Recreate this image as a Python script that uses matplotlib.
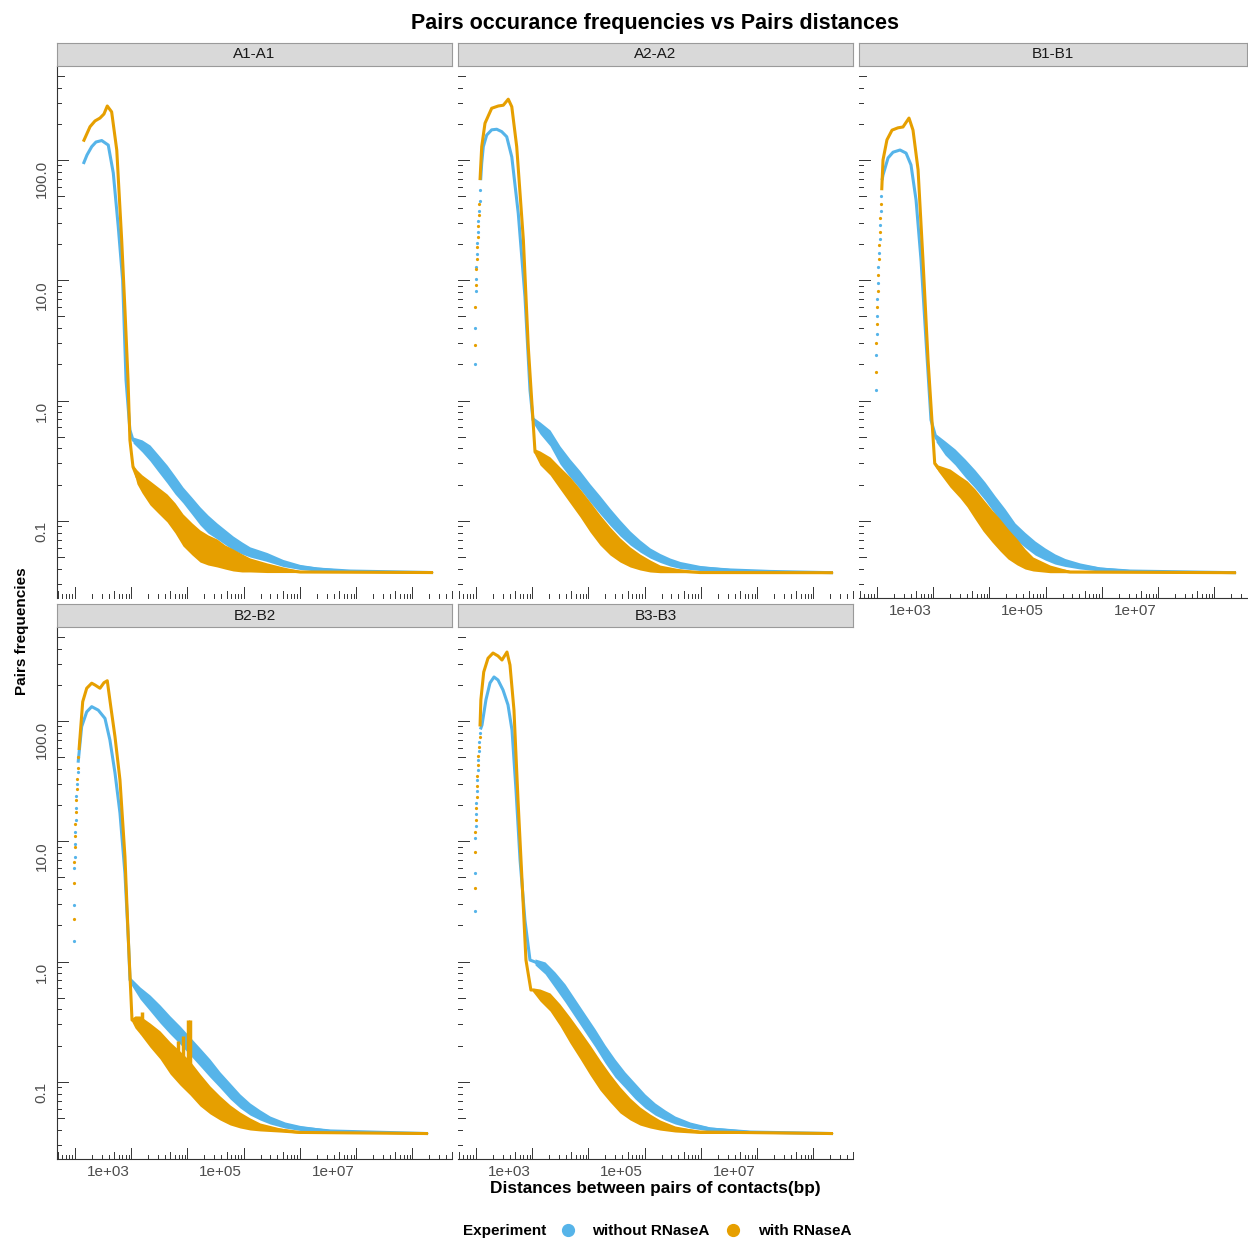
import numpy as np
import matplotlib
matplotlib.use("Agg")
import matplotlib.pyplot as plt
from matplotlib.lines import Line2D
from matplotlib.ticker import NullLocator

plt.rcParams["font.family"] = ["Liberation Sans", "DejaVu Sans"]

# ── data (distance in bp, pair frequency) ────────────────────────────────────
# *_spread: half-width (in decades) of the noisy band around the tail

panel_names = ["A1-A1", "A2-A2", "B1-B1", "B2-B2", "B3-B3"]
series_names = ["without RNaseA", "with RNaseA"]
x_tick_values = [1e3, 1e5, 1e7]
x_tick_labels = ["1e+03", "1e+05", "1e+07"]
y_tick_values = [0.1, 1, 10, 100]
y_tick_labels = ["0.1", "1.0", "10.0", "100.0"]

# A1-A1
a1_blue_dot_x, a1_blue_dot_y = [], []
a1_orange_dot_x, a1_orange_dot_y = [], []
a1_blue_x = [364, 423, 513, 611, 773, 1010, 1240, 1520, 1820, 2090, 2450,
             2780, 4020, 5570, 7750, 11200, 15500, 21500, 31100, 43200, 59900, 86500, 120000,
             167000, 241000, 334000, 670000, 1.29e6, 2.59e6, 5.19e6, 2e7, 6e8]
a1_blue_y = [92.6, 110, 129, 141, 145, 133, 78, 27.9, 10, 1.48, 0.57,
             0.470, 0.420, 0.367, 0.303, 0.245, 0.199, 0.164, 0.133, 0.110, 0.094, 0.0824, 0.0735,
             0.0655, 0.0595, 0.0552, 0.0501, 0.0447, 0.0414, 0.0398, 0.0383, 0.0372]
a1_blue_spread = [0] * 11 + [0.025, 0.05, 0.066, 0.071, 0.075, 0.075, 0.066, 0.071, 0.075, 0.075, 0.066, 0.062,
                             0.058, 0.05, 0.042, 0.037, 0.029, 0.021, 0.017, 0.008, 0.004]
a1_orange_x = [364, 479, 587, 720, 847, 970, 1160, 1430, 1750, 2000, 2270, 2450,
               2780, 3270, 4020, 5570, 7750, 11200, 15500, 21500, 31100, 43200, 59900, 86500,
               120000, 167000, 241000, 334000, 670000, 1.29e6, 2.59e6, 6e8]
a1_orange_y = [142, 189, 211, 223, 241, 281, 251, 121, 21.6, 5.7, 1.48, 0.47,
               0.281, 0.232, 0.203, 0.171, 0.149, 0.128, 0.106, 0.084, 0.0708, 0.0618, 0.0573, 0.0541,
               0.0501, 0.0473, 0.0447, 0.0430, 0.0406, 0.0391, 0.0376, 0.0372]
a1_orange_spread = [0] * 12 + [0.017, 0.058, 0.075, 0.1, 0.108, 0.116, 0.125, 0.133, 0.133, 0.133, 0.125, 0.116,
                               0.1, 0.091, 0.075, 0.058, 0.042, 0.025, 0.012, 0.004]

# A2-A2
a2_blue_dot_x = [248, 248, 256, 259, 263, 268, 273, 279, 285, 292, 299, 306]
a2_blue_dot_y = [2.0, 4.0, 8.2, 10.2, 13, 16.5, 20.5, 25, 31, 38, 46, 56]
a2_orange_dot_x = [248, 248, 256, 259, 265, 270, 276, 282, 289, 296]
a2_orange_dot_y = [2.9, 6.0, 9.2, 12.4, 15, 19, 23, 28, 35, 43]
a2_blue_x = [313, 327, 349, 401, 492, 604, 741, 910, 1120, 1460, 1920, 2360,
             2670, 3560, 5360, 8050, 12100, 18300, 27500, 41400, 62400, 94000, 142000, 213000,
             321000, 483000, 728000, 1.1e6, 2.48e6, 8.5e6, 4.37e7, 5.75e8]
a2_blue_y = [68, 94, 129, 161, 178, 180, 172, 156, 106, 36, 7.3, 1.22,
             0.690, 0.592, 0.489, 0.353, 0.275, 0.219, 0.171, 0.136, 0.108, 0.0873, 0.0721, 0.0618,
             0.0541, 0.0492, 0.0455, 0.0430, 0.0406, 0.0391, 0.0380, 0.0371]
a2_blue_spread = [0] * 12 + [0.025, 0.05, 0.066, 0.075, 0.075, 0.075, 0.075, 0.075, 0.071, 0.066, 0.058, 0.05,
                             0.042, 0.037, 0.033, 0.029, 0.021, 0.012, 0.008, 0.004]
a2_orange_x = [305, 327, 374, 492, 646, 791, 970, 1120, 1370, 1800, 2200, 2530,
               2900, 3560, 5360, 8050, 12100, 18300, 27500, 41400, 62400, 94000, 142000, 213000,
               321000, 483000, 1.1e6, 2.48e6, 5.75e8]
a2_orange_y = [68, 129, 202, 269, 281, 285, 320, 277, 129, 21.6, 2.8, 1.01,
               0.374, 0.333, 0.286, 0.227, 0.181, 0.141, 0.108, 0.084, 0.068, 0.0573, 0.0501, 0.0455,
               0.0422, 0.0398, 0.0383, 0.0372, 0.0371]
a2_orange_spread = [0] * 12 + [0.025, 0.058, 0.075, 0.091, 0.108, 0.116, 0.125, 0.125, 0.116, 0.1, 0.083, 0.066,
                               0.05, 0.033, 0.017, 0.008, 0.004]

# B1-B1
b1_blue_dot_x = [248, 250, 254, 258, 263, 268, 274, 280, 287, 294, 302, 310]
b1_blue_dot_y = [1.22, 2.4, 3.6, 5.0, 7.0, 9.5, 13, 17, 22, 29, 38, 50]
b1_orange_dot_x = [249, 252, 256, 260, 265, 271, 277, 283, 290, 298, 306]
b1_orange_dot_y = [1.73, 3.0, 4.3, 6.0, 8.2, 11, 15, 19.5, 25, 33, 43]
b1_blue_x = [318, 331, 407, 499, 664, 851, 1040, 1280, 1570, 1920, 2360,
             2900, 4190, 6310, 9490, 14300, 21500, 32400, 48900, 73600, 111000, 167000, 251000,
             378000, 569000, 1.05e6, 2.38e6, 8.14e6, 6.24e8]
b1_blue_y = [68, 75, 104, 116, 121, 114, 91, 46.5, 14.7, 3.2, 0.69,
             0.489, 0.404, 0.340, 0.275, 0.223, 0.177, 0.136, 0.106, 0.0824, 0.0694, 0.0595, 0.0531,
             0.0482, 0.0451, 0.0422, 0.0398, 0.0383, 0.0371]
b1_blue_spread = [0] * 11 + [0.033, 0.058, 0.066, 0.075, 0.075, 0.075, 0.075, 0.075, 0.066, 0.062, 0.058, 0.05,
                             0.042, 0.033, 0.025, 0.017, 0.012, 0.004]
b1_orange_x = [314, 331, 389, 479, 611, 750, 959, 1130, 1390, 1700, 2090, 2450,
               2750, 3140, 5140, 7750, 10300, 14300, 19800, 28600, 39800, 55200, 79800, 111000,
               154000, 308000, 698000, 6.24e8]
b1_orange_y = [56, 100, 147, 177, 185, 188, 223, 177, 83, 14.7, 2.2, 0.69,
               0.30, 0.275, 0.227, 0.191, 0.168, 0.138, 0.112, 0.0908, 0.0764, 0.0643, 0.0552, 0.0482,
               0.0438, 0.0398, 0.0376, 0.0371]
b1_orange_spread = [0] * 12 + [0.017, 0.025, 0.075, 0.091, 0.108, 0.125, 0.133, 0.133, 0.133, 0.125, 0.108, 0.083,
                               0.058, 0.033, 0.012, 0.004]

# B2-B2
b2_blue_dot_x = [248, 248, 252, 254, 257, 261, 265, 270, 275, 281, 287]
b2_blue_dot_y = [1.48, 2.95, 5.97, 7.45, 9.5, 12, 15, 19, 24, 30, 38]
b2_orange_dot_x = [248, 249, 253, 256, 259, 263, 268, 273, 278, 284, 291, 298]
b2_orange_dot_y = [2.25, 4.48, 6.77, 9.0, 11, 14, 17.5, 22, 27, 33, 41, 50]
b2_blue_x = [294, 340, 418, 513, 671, 883, 1080, 1330, 1630, 2000, 2300,
             2460, 3710, 5570, 8390, 12700, 19100, 28600, 43200, 65000, 97900, 148000, 222000,
             334000, 504000, 759000, 1.4e6, 2.59e6, 8.83e6, 4.89e8]
b2_blue_y = [45, 89.7, 119, 131.5, 123, 105, 69.5, 37, 17.2, 5.4, 1.51,
             0.703, 0.548, 0.453, 0.367, 0.297, 0.245, 0.199, 0.161, 0.130, 0.104, 0.084, 0.0694,
             0.0595, 0.0531, 0.0482, 0.0438, 0.0414, 0.0391, 0.0372]
b2_blue_spread = [0] * 11 + [0.025, 0.05, 0.066, 0.075, 0.075, 0.075, 0.075, 0.075, 0.075, 0.066, 0.066, 0.058,
                             0.05, 0.042, 0.033, 0.025, 0.021, 0.012, 0.004]
b2_orange_x = [305, 355, 418, 513, 587, 720, 847, 970, 1120, 1330, 1630, 2000, 2300,
               2670, 3020, 3710, 5570, 8390, 12700, 19100, 28600, 43200, 65000, 97900, 148000,
               222000, 334000, 504000, 1.14e6, 2.59e6, 4.89e8]
b2_orange_y = [57.4, 144.6, 187, 206, 199, 187, 208, 216, 131.5, 74, 32.4, 7.45, 1.51,
               0.327, 0.315, 0.297, 0.245, 0.203, 0.158, 0.130, 0.108, 0.0857, 0.0708, 0.0607, 0.0531,
               0.0482, 0.0447, 0.0422, 0.0398, 0.0380, 0.0372]
b2_orange_spread = [0] * 13 + [0.017, 0.05, 0.075, 0.1, 0.116, 0.133, 0.141, 0.141, 0.133, 0.116, 0.1, 0.083,
                               0.066, 0.05, 0.033, 0.017, 0.008, 0.004]
b2_orange_spike_x = [4020, 17500, 21500, 26400, 28600]
b2_orange_spike_lo = [0.25, 0.13, 0.12, 0.10, 0.10]
b2_orange_spike_hi = [0.38, 0.22, 0.24, 0.33, 0.33]

# B3-B3
b3_blue_dot_x = [248, 248, 252, 255, 259, 263, 267, 272, 277, 283, 289, 296, 303]
b3_blue_dot_y = [2.63, 5.45, 10.6, 13.5, 17, 21, 26, 32, 39, 47, 56, 67, 80]
b3_orange_dot_x = [248, 249, 253, 257, 261, 265, 270, 275, 280, 286, 292, 299]
b3_orange_dot_y = [4.1, 8.1, 12, 15, 19, 23.5, 29, 35, 43, 51, 61, 73]
b3_blue_x = [310, 331, 389, 459, 541, 637, 782, 959, 1130, 1330, 1570, 1920, 2360,
             2900, 4370, 6570, 9890, 14900, 22400, 33800, 50800, 76600, 115000, 174000, 261000,
             394000, 593000, 893000, 1.65e6, 3.74e6, 1.92e7, 5.75e8]
b3_blue_y = [85, 92.6, 150, 207, 232, 219, 181, 136, 84, 26.7, 7.0, 2.2, 1.03,
             0.993, 0.885, 0.703, 0.548, 0.411, 0.309, 0.232, 0.171, 0.130, 0.104, 0.084, 0.0694,
             0.0595, 0.0531, 0.0482, 0.0438, 0.0406, 0.0383, 0.0372]
b3_blue_spread = [0] * 13 + [0.025, 0.05, 0.066, 0.075, 0.075, 0.075, 0.075, 0.075, 0.075, 0.066, 0.066, 0.058,
                             0.05, 0.042, 0.033, 0.025, 0.017, 0.012, 0.004]
b3_orange_x = [305, 316, 355, 423, 519, 637, 750, 920, 1040, 1225, 1445, 1700, 2000, 2450,
               2670, 3560, 5360, 8050, 12100, 18300, 27500, 41400, 62400, 94000, 142000, 213000,
               321000, 483000, 893000, 2.48e6, 5.75e8]
b3_orange_y = [90, 150, 255, 332, 367, 347, 321, 374, 292, 123, 22, 4.8, 1.03, 0.58,
               0.581, 0.527, 0.461, 0.360, 0.270, 0.203, 0.152, 0.114, 0.0889, 0.0708, 0.0595, 0.0520,
               0.0473, 0.0438, 0.0406, 0.0383, 0.0372]
b3_orange_spread = [0] * 14 + [0.017, 0.05, 0.075, 0.091, 0.108, 0.116, 0.125, 0.125, 0.116, 0.108, 0.091, 0.075,
                               0.058, 0.042, 0.025, 0.012, 0.004]

# ── layout (pixels of the 1248x1241 canvas) ──────────────────────────────────

W, H = 1248, 1241
BLUE, ORANGE = "#56B4E9", "#E69F00"
TICK_COL = "#333333"
COL_LEFT = [57, 458, 859]
PANEL_W = 395
ROW_TOP = [66, 627]
PANEL_H = 532
STRIP_H = 23
PX_PER_DECADE_X = 56.25
X_LOG_MIN = 2.093
Y_LIM = (10 ** -1.641, 10 ** 2.781)
LOGTICK_SHIFT = 0.41      # the in-panel x logticks sit off the labelled decades

panels = {
    "A1-A1": dict(row=0, col=0,
                  blue=(a1_blue_x, a1_blue_y, a1_blue_spread, a1_blue_dot_x, a1_blue_dot_y),
                  orange=(a1_orange_x, a1_orange_y, a1_orange_spread, a1_orange_dot_x, a1_orange_dot_y)),
    "A2-A2": dict(row=0, col=1,
                  blue=(a2_blue_x, a2_blue_y, a2_blue_spread, a2_blue_dot_x, a2_blue_dot_y),
                  orange=(a2_orange_x, a2_orange_y, a2_orange_spread, a2_orange_dot_x, a2_orange_dot_y)),
    "B1-B1": dict(row=0, col=2,
                  blue=(b1_blue_x, b1_blue_y, b1_blue_spread, b1_blue_dot_x, b1_blue_dot_y),
                  orange=(b1_orange_x, b1_orange_y, b1_orange_spread, b1_orange_dot_x, b1_orange_dot_y)),
    "B2-B2": dict(row=1, col=0,
                  blue=(b2_blue_x, b2_blue_y, b2_blue_spread, b2_blue_dot_x, b2_blue_dot_y),
                  orange=(b2_orange_x, b2_orange_y, b2_orange_spread, b2_orange_dot_x, b2_orange_dot_y)),
    "B3-B3": dict(row=1, col=1,
                  blue=(b3_blue_x, b3_blue_y, b3_blue_spread, b3_blue_dot_x, b3_blue_dot_y),
                  orange=(b3_orange_x, b3_orange_y, b3_orange_spread, b3_orange_dot_x, b3_orange_dot_y)),
}
bottom_of_column = {"B1-B1", "B2-B2", "B3-B3"}


def fig_rect(left, top, width, height):
    return [left / W, 1 - (top + height) / H, width / W, height / H]


def draw_series(ax, series, color):
    x, y, spread, dx, dy = (np.asarray(a, dtype=float) for a in series)
    floor = y[-1]
    lo = np.maximum(y / 10 ** spread, floor)
    hi = y * 10 ** spread
    tail = spread > 0
    ax.fill_between(x[tail], lo[tail], hi[tail], color=color, lw=0)
    ax.plot(x, y, color=color, lw=2.2, solid_capstyle="butt")
    if len(dx):
        ax.plot(dx, dy, "o", ms=2.3, color=color, mec="none")


def draw_logticks(ax, width_px, height_px, x_log_max):
    ytr = ax.get_yaxis_transform()
    xtr = ax.get_xaxis_transform()
    for k in range(-3, 4):
        for m in range(1, 10):
            v = m * 10.0 ** k
            if Y_LIM[0] <= v <= Y_LIM[1]:
                length = 11 if m == 1 else (7 if m == 5 else 4)
                ax.plot([0, length / width_px], [v, v], transform=ytr,
                        color=TICK_COL, lw=0.7, clip_on=False)
    for k in range(1, 10):
        for m in range(1, 10):
            v = m * 10.0 ** (k + LOGTICK_SHIFT)
            if 10 ** X_LOG_MIN <= v <= 10 ** x_log_max:
                length = 11 if m == 1 else (7 if m == 5 else 4)
                ax.plot([v, v], [0, length / height_px], transform=xtr,
                        color=TICK_COL, lw=0.7, clip_on=False)


fig = plt.figure(figsize=(W / 100, H / 100), dpi=100)

for name, p in panels.items():
    left = COL_LEFT[p["col"]]
    top = ROW_TOP[p["row"]]
    width = min(PANEL_W, W - 1 - left)
    x_log_max = X_LOG_MIN + width / PX_PER_DECADE_X

    ax = fig.add_axes(fig_rect(left, top, width, PANEL_H))
    ax.set_xscale("log")
    ax.set_yscale("log")
    ax.set_xlim(10 ** X_LOG_MIN, 10 ** x_log_max)
    ax.set_ylim(*Y_LIM)

    draw_series(ax, p["blue"], BLUE)
    draw_series(ax, p["orange"], ORANGE)
    if name == "B2-B2":
        ax.vlines(b2_orange_spike_x, b2_orange_spike_lo, b2_orange_spike_hi, color=ORANGE, lw=2.5)

    for s in ax.spines.values():
        s.set_visible(False)
    ax.xaxis.set_minor_locator(NullLocator())
    ax.yaxis.set_minor_locator(NullLocator())

    if p["col"] == 0:
        ax.spines["left"].set_visible(True)
        ax.spines["left"].set_color(TICK_COL)
        ax.spines["left"].set_linewidth(0.8)
        ax.set_yticks(y_tick_values)
        ax.set_yticklabels(y_tick_labels)
        ax.tick_params(axis="y", length=0, pad=6, labelsize=11, labelcolor="#4D4D4D", labelrotation=90)
        for lbl in ax.get_yticklabels():
            lbl.set_va("top")
            lbl.set_ha("right")
    else:
        ax.set_yticks([])

    if name in bottom_of_column:
        ax.spines["bottom"].set_visible(True)
        ax.spines["bottom"].set_color(TICK_COL)
        ax.spines["bottom"].set_linewidth(0.8)
        ax.set_xticks(x_tick_values)
        ax.set_xticklabels(x_tick_labels)
        ax.tick_params(axis="x", length=0, pad=4, labelsize=11, labelcolor="#4D4D4D")
    else:
        ax.set_xticks([])

    draw_logticks(ax, width, PANEL_H, x_log_max)

    # facet strip
    sax = fig.add_axes(fig_rect(left, top - STRIP_H, width, STRIP_H))
    sax.set_facecolor("#D9D9D9")
    sax.set_xticks([])
    sax.set_yticks([])
    for s in sax.spines.values():
        s.set_color("#9A9A9A")
        s.set_linewidth(0.8)
    sax.text(0.5, 0.5, name, ha="center", va="center", fontsize=11, color="#1A1A1A",
             transform=sax.transAxes)

fig.text(655 / W, 1 - 24 / H, "Pairs occurance frequencies vs Pairs distances",
         ha="center", va="center", fontsize=15.5, fontweight="bold")
fig.text(655 / W, 1 - 1189 / H, "Distances between pairs of contacts(bp)",
         ha="center", va="center", fontsize=12.4, fontweight="bold")
fig.text(22 / W, 1 - 631 / H, "Pairs frequencies", rotation=90,
         ha="center", va="center", fontsize=11, fontweight="bold")

# legend
fig.text(463 / W, 1 - 1231 / H, "Experiment", ha="left", va="center", fontsize=11, fontweight="bold")
handles = [Line2D([], [], ls="none", marker="o", ms=8.5, color=c) for c in (BLUE, ORANGE)]
fig.legend(handles, series_names, loc="center left", bbox_to_anchor=(560 / W, 1 - 1231 / H),
           ncol=2, frameon=False, borderpad=0, borderaxespad=0, handlelength=1.0,
           handletextpad=1.1, columnspacing=1.05, prop={"weight": "bold", "size": 11})

fig.savefig("out.png", dpi=100)
